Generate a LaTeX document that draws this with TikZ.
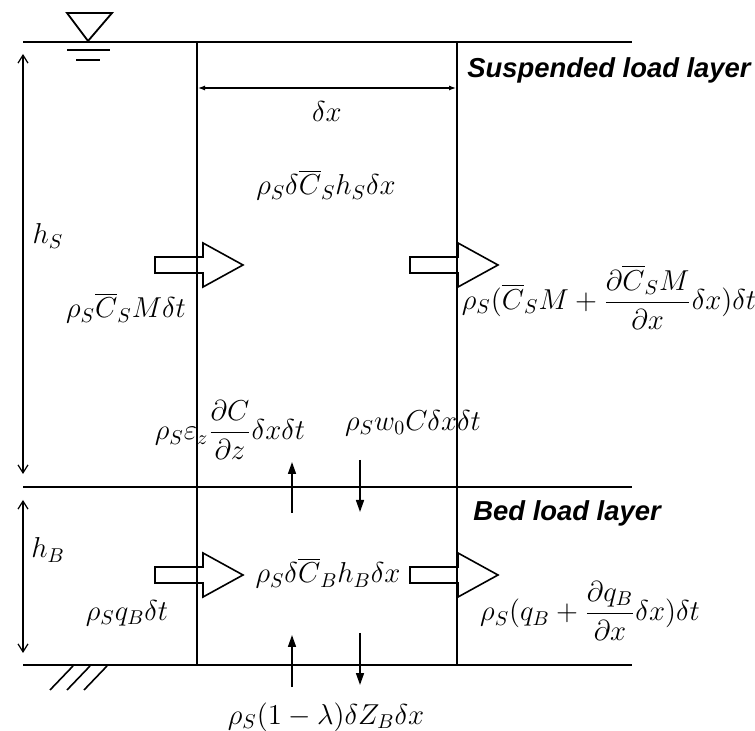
\documentclass[tikz,border=0pt]{standalone}
\usepackage{amsmath}
\usepackage{fontspec}
\newfontfamily\layerfont{Liberation Sans}
\usetikzlibrary{arrows.meta,positioning}

\begin{document}
\begin{tikzpicture}[
            x=0.5pt, y=-0.5pt,
            levelline/.style={line width=1.35pt},
            wallline/.style={line width=1pt},
            dimline/.style={{Straight Barb[length=4pt,width=5pt]}-{Straight Barb[length=4pt,width=5pt]}, line width=0.6pt},
            widthline/.style={{Latex[length=3.5pt,width=2.5pt]}-{Latex[length=3.5pt,width=2.5pt]}, line width=0.6pt},
            fluxline/.style={-{Triangle[length=6pt,width=4pt]}, line width=0.8pt},
            term/.style={font=\fontsize{14.5}{17}\selectfont, inner sep=0pt},
            layer/.style={font=\layerfont\bfseries\itshape\fontsize{13.7}{16}\selectfont, inner sep=0pt, anchor=west},
            blockarrow/.pic={\draw[line width=0.8pt] (-48,-8) -- (0,-8) -- (0,-22) -- (40,0) -- (0,22) -- (0,8) -- (-48,8) -- cycle;}
        ]
        \useasboundingbox (0,0) rectangle (755,731);
        % layer boundaries and control volume walls
        \coordinate (surfL) at (23,42);
        \coordinate (surfR) at (632,42);
        \coordinate (midL) at (23,487);
        \coordinate (midR) at (632,487);
        \coordinate (bedL) at (23,665);
        \coordinate (bedR) at (632,665);
        \coordinate (wallLt) at (197,42);
        \coordinate (wallLb) at (197,665);
        \coordinate (wallRt) at (457,42);
        \coordinate (wallRb) at (457,665);
        \draw[levelline] (surfL) -- (surfR);
        \draw[levelline] (midL) -- (midR);
        \draw[levelline] (bedL) -- (bedR);
        \draw[wallline] (wallLt) -- (wallLb);
        \draw[wallline] (wallRt) -- (wallRb);
        % water level symbol
        \draw[line width=0.9pt] (67,13) -- (112,13) -- (88,41) -- cycle;
        \draw[line width=0.9pt] (67,50) -- (110,50);
        \draw[line width=0.9pt] (76,60) -- (100,60);
        % bed hatching
        \foreach \hx in {50,67,84}
            \draw[line width=0.8pt] (\hx,690) -- ++(23,-24);
        % dimensions
        \coordinate (hsTop) at (23,54);
        \coordinate (hsBot) at (23,474);
        \coordinate (hbTop) at (23,500);
        \coordinate (hbBot) at (23,653);
        \coordinate (dxL) at (198,88);
        \coordinate (dxR) at (456,88);
        \draw[dimline] (hsTop) -- (hsBot);
        \draw[dimline] (hbTop) -- (hbBot);
        \draw[widthline] (dxL) -- (dxR);
        \node[term] (dxlabel) at (327,112) {$\delta x$};
        \node[term] (hslabel) at (48,236) {$h_S$};
        \node[term] (hblabel) at (48,550) {$h_B$};
        \node[layer] (susplabel) at (467,70) {Suspended load layer};
        \node[layer] (bedlabel) at (473,513) {Bed load layer};
        % horizontal fluxes
        \pic (suspin) at (203,265) {blockarrow};
        \pic (suspout) at (458,265) {blockarrow};
        \pic (bedin) at (203,575) {blockarrow};
        \pic (bedout) at (458,575) {blockarrow};
        % vertical fluxes
        \coordinate (upMidA) at (292,513);
        \coordinate (upMidB) at (292,462);
        \coordinate (dnMidA) at (360,460);
        \coordinate (dnMidB) at (360,512);
        \coordinate (upBedA) at (292,687);
        \coordinate (upBedB) at (292,635);
        \coordinate (dnBedA) at (360,633);
        \coordinate (dnBedB) at (360,685);
        \draw[fluxline] (upMidA) -- (upMidB);
        \draw[fluxline] (dnMidA) -- (dnMidB);
        \draw[fluxline] (upBedA) -- (upBedB);
        \draw[fluxline] (dnBedA) -- (dnBedB);
        % terms
        \node[term] (storeS) at (326,185) {$\rho_S\delta\overline{C}_S h_S\delta x$};
        \node[term] (inS) at (126,308) {$\rho_S\overline{C}_S M\delta t$};
        \node[term] (outS) at (609,297) {$\rho_S(\overline{C}_S M+\dfrac{\partial\overline{C}_S M}{\partial x}\delta x)\delta t$};
        \node[term] (diffS) at (230,430) {$\rho_S\varepsilon_z\dfrac{\partial C}{\partial z}\delta x\delta t$};
        \node[term] (settleS) at (413,423) {$\rho_S w_0 C\delta x\delta t$};
        \node[term] (storeB) at (328,573) {$\rho_S\delta\overline{C}_B h_B\delta x$};
        \node[term] (inB) at (127,613) {$\rho_S q_B\delta t$};
        \node[term] (outB) at (590,611) {$\rho_S(q_B+\dfrac{\partial q_B}{\partial x}\delta x)\delta t$};
        \node[term] (bedZ) at (326,717) {$\rho_S(1-\lambda)\delta Z_B\delta x$};
\end{tikzpicture}
\end{document}
